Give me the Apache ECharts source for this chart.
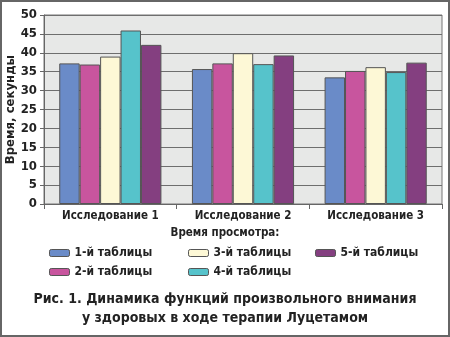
<!DOCTYPE html>
<html><head><meta charset="utf-8">
<script src="https://cdn.jsdelivr.net/npm/echarts@6/dist/echarts.min.js"></script>
<style>html,body{margin:0;padding:0;background:#fff}#c{width:450px;height:337px}</style>
</head><body><div id="c"></div>
<script>
const categories = ['Исследование 1', 'Исследование 2', 'Исследование 3'];
const seriesNames = ['1-й таблицы', '2-й таблицы', '3-й таблицы', '4-й таблицы', '5-й таблицы'];
const table1 = [37.2, 35.7, 33.5];
const table2 = [36.9, 37.2, 35.2];
const table3 = [39.0, 39.9, 36.2];
const table4 = [45.9, 37.0, 34.9];
const table5 = [42.1, 39.3, 37.4];
const colors = ['#6a8bc8', '#c8559e', '#fdf8d6', '#56c3cb', '#843f80'];
const yTicks = [0, 50, 5];

const font = '"DejaVu Sans Condensed", "Liberation Sans", sans-serif';
const values = [table1, table2, table3, table4, table5];
const chart = echarts.init(document.getElementById('c'), null, {renderer: 'canvas'});
const legendText = {fontFamily: font, fontWeight: 'bold', fontSize: 12, color: '#222'};
const legendBase = {orient: 'vertical', itemWidth: 20, itemHeight: 7, itemGap: 7, textStyle: legendText,
  itemStyle: {borderColor: '#555', borderWidth: 1}, selectedMode: false, padding: 0};
chart.setOption({
  animation: false,
  color: colors,
  title: [{
    text: 'Рис. 1. Динамика функций произвольного внимания\nу здоровых в ходе терапии Луцетамом',
    left: 'center', top: 290, padding: 0,
    textStyle: {fontFamily: font, fontWeight: 'bold', fontSize: 14, color: '#222', lineHeight: 19}
  }, {
    text: 'Время просмотра:', left: 'center', top: 227, padding: 0,
    textStyle: {fontFamily: font, fontWeight: 'bold', fontSize: 11.5, color: '#222'}
  }],
  legend: [
    Object.assign({}, legendBase, {data: [seriesNames[0], seriesNames[1]], left: 49, top: 247}),
    Object.assign({}, legendBase, {data: [seriesNames[2], seriesNames[3]], left: 188, top: 247}),
    Object.assign({}, legendBase, {data: [seriesNames[4]], left: 315, top: 247})
  ],
  grid: {left: 44, right: 8, top: 15, bottom: 133, containLabel: false, outerBoundsMode: 'none',
    show: true, backgroundColor: '#e7e8e7', borderColor: '#777', borderWidth: 1},
  xAxis: {
    type: 'category', data: categories,
    axisLine: {lineStyle: {color: '#666'}},
    axisTick: {show: true, length: 5, lineStyle: {color: '#666'}},
    axisLabel: {interval: 0, fontFamily: font, fontWeight: 'bold', fontSize: 11.5, color: '#222', margin: 6}
  },
  yAxis: {
    type: 'value', min: yTicks[0], max: yTicks[1], interval: yTicks[2],
    name: 'Время, секунды', nameLocation: 'middle', nameGap: 27, nameMoveOverlap: false,
    nameTextStyle: {fontFamily: font, fontWeight: 'bold', fontSize: 13, color: '#222'},
    axisLine: {show: true, lineStyle: {color: '#666'}},
    axisTick: {show: true, length: 4, lineStyle: {color: '#666'}},
    axisLabel: {fontFamily: font, fontWeight: 'bold', fontSize: 13, color: '#222', margin: 7},
    splitLine: {lineStyle: {color: '#6e6e6e', width: 1}}
  },
  series: seriesNames.map((n, i) => ({
    name: n, type: 'bar', data: values[i],
    barGap: '0%', barCategoryGap: '23%',
    itemStyle: {color: colors[i], borderColor: '#555', borderWidth: 1}
  })),
  graphic: [{type: 'rect', shape: {x: 1, y: 1, width: 448, height: 335},
    style: {fill: 'none', stroke: '#666', lineWidth: 2}, z: 100}]
});
</script></body></html>
